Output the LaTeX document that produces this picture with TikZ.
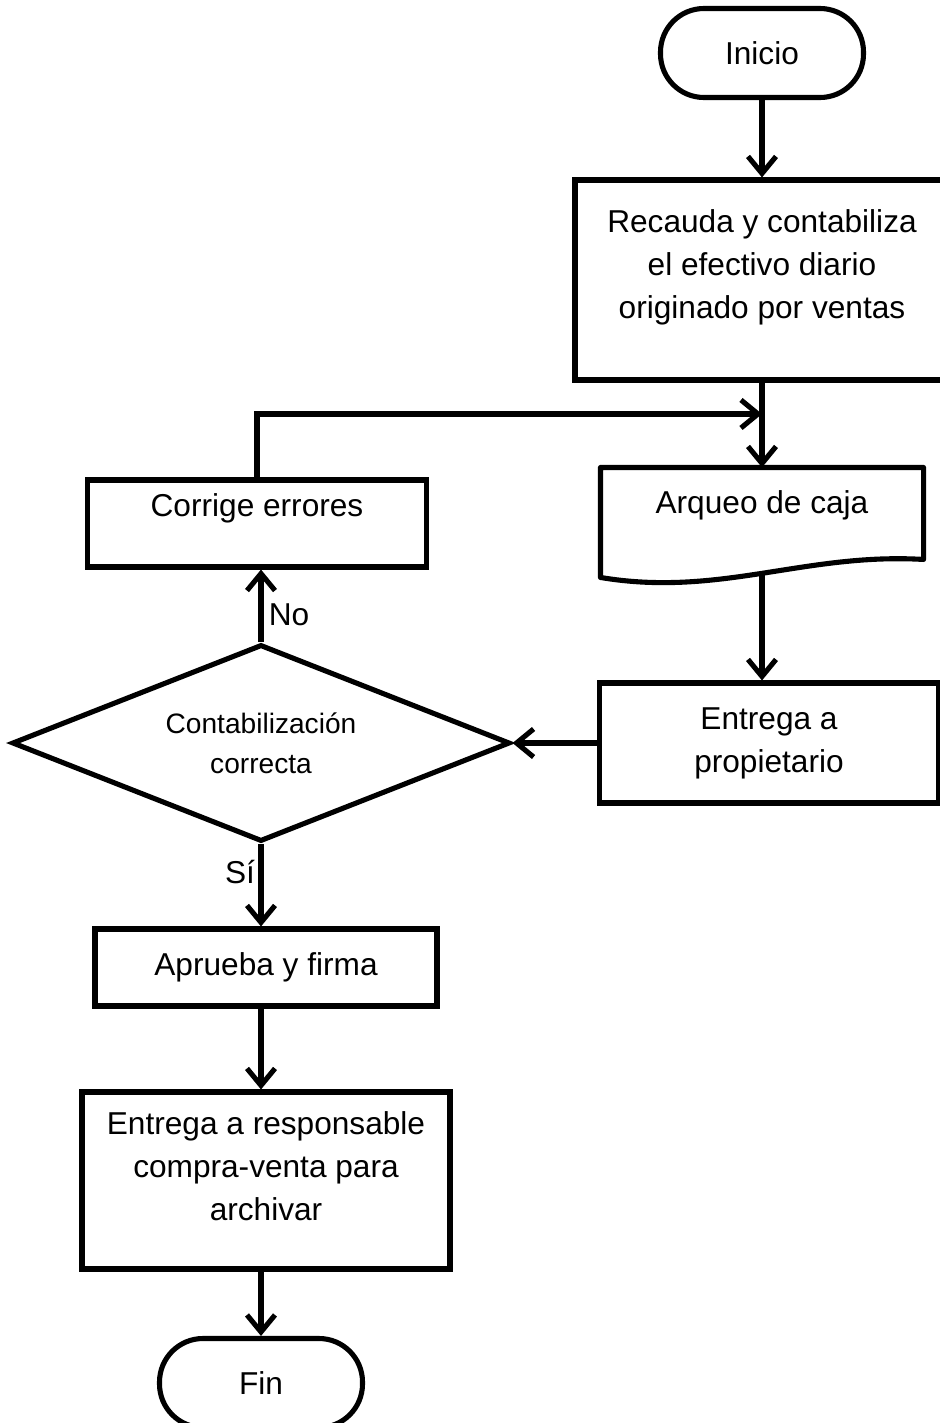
\documentclass[tikz,border=0pt]{standalone}
\usepackage{fontspec}
\setmainfont{Liberation Sans}
\usetikzlibrary{shapes.geometric, arrows.meta, positioning, calc}
\tikzstyle{block} = [rectangle, minimum width=6.8cm, minimum height=1.6cm, text centered, align=center, draw=black, line width=2.9pt, font=\fontsize{18}{24.5}\selectfont]
\tikzstyle{terminal} = [rectangle, rounded corners=0.87cm, minimum width=4.06cm, minimum height=1.78cm, draw=black, line width=2.9pt, font=\fontsize{18}{24.5}\selectfont]
\tikzstyle{decision} = [diamond, aspect=2.53, inner sep=0pt, minimum width=9.96cm, minimum height=3.94cm, align=center, draw=black, line width=2.9pt, font=\fontsize{16}{23}\selectfont]
\tikzstyle{lbl} = [font=\fontsize{18}{22}\selectfont]
\tikzstyle{arrow} = [line width=2.9pt, -{Straight Barb[length=0.34cm, width=0.56cm]}]

\begin{document}
\begin{tikzpicture}[node distance=4.5cm, on grid]
\useasboundingbox (0,0) rectangle (18.78,-28.46);
% Right column
\node[terminal] (inicio) at (15.24,-1.06) {Inicio};
\node[block, minimum width=7.48cm, minimum height=4cm, text depth=18pt, below=4.54cm of inicio] (recauda) {Recauda y contabiliza\\el efectivo diario\\originado por ventas};
\node[block, draw=none, minimum width=6.36cm, minimum height=1.4cm, below=4.5cm of recauda] (arqueo) {Arqueo de caja};
\node[block, minimum width=6.78cm, minimum height=2.4cm, below=4.76cm of arqueo, xshift=0.14cm] (propietario) {Entrega a\\propietario};
% Left column
\node[decision, left=10.16cm of propietario] (correcta) {Contabilización\\correcta};
\node[block, minimum width=6.78cm, minimum height=1.74cm, text depth=21pt, above=4.39cm of correcta, xshift=-0.08cm] (corrige) {Corrige errores};
\node[block, minimum width=6.84cm, minimum height=1.54cm, below=4.49cm of correcta, xshift=0.1cm] (aprueba) {Aprueba y firma};
\node[block, minimum width=7.36cm, minimum height=3.54cm, text depth=16pt, below=4.26cm of aprueba] (responsable) {Entrega a responsable\\compra-venta para\\archivar};
\node[terminal, below=4.05cm of responsable, xshift=-0.1cm] (fin) {Fin};
% Labels
\node[lbl] (no) at (5.78,-12.3) {No};
\node[lbl] (si) at (4.8,-17.44) {Sí};

% Document outline of the cash count
\draw[line width=2.9pt, line join=round] (arqueo.north west) -- (arqueo.north east) -- ($(arqueo.north east)+(0,-1.84)$) .. controls +(-2.38,0.14) and +(2.38,-0.4) .. ($(arqueo.north west)+(0,-2.2)$) coordinate[pos=0.5] (arqueobot) -- cycle;

\coordinate (junta) at ($(recauda.south)!0.37!(arqueo.north)$);

% Arrows
\draw[arrow] (inicio) -- (recauda);
\draw[arrow] (recauda.south) -- (arqueo.north);
\draw[arrow] (corrige.north) |- (junta);
\draw[arrow] (arqueobot) -- (arqueobot |- propietario.north);
\draw[arrow] (propietario) -- (correcta);
\draw[arrow] (correcta.north) -- (correcta.north |- corrige.south);
\draw[arrow] (correcta.south) -- (correcta.south |- aprueba.north);
\draw[arrow] (aprueba.south -| correcta) -- (responsable.north -| correcta);
\draw[arrow] (responsable.south -| correcta) -- (fin.north -| correcta);
\end{tikzpicture}
\end{document}
